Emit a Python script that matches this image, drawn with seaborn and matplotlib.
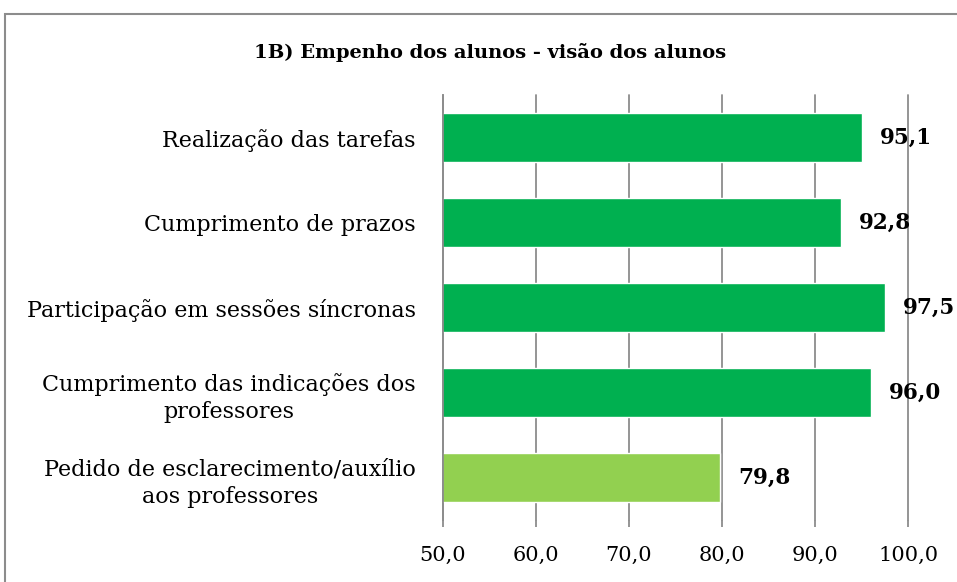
import matplotlib
matplotlib.use("Agg")
import matplotlib.pyplot as plt
import seaborn as sns
import pandas as pd
from matplotlib.patches import Rectangle

# dados do gráfico
categorias = [
    "Realização das tarefas",
    "Cumprimento de prazos",
    "Participação em sessões síncronas",
    "Cumprimento das indicações dos\nprofessores",
    "Pedido de esclarecimento/auxílio\naos professores",
]
valores = [95.1, 92.8, 97.5, 96.0, 79.8]
cores = ["#00B050", "#00B050", "#00B050", "#00B050", "#92D050"]
ticks_x = [50, 60, 70, 80, 90, 100]
titulo = "1B) Empenho dos alunos - visão dos alunos"

df = pd.DataFrame({"categoria": categorias, "valor": valores})

sns.set_style("white")
plt.rcParams["font.family"] = ["DejaVu Serif"]
plt.rcParams["text.color"] = "black"
plt.rcParams["xtick.color"] = "black"
plt.rcParams["ytick.color"] = "black"

fig = plt.figure(figsize=(9.57, 5.82), dpi=100)
ax = fig.add_axes([0.4629, 0.1065, 0.4859, 0.7302])

sns.barplot(data=df, x="valor", y="categoria", hue="categoria", palette=cores,
            orient="h", width=0.58, legend=False, ax=ax, saturation=1)

ax.set_xlim(50, 100)
ax.set_xticks(ticks_x)
ax.set_xticklabels([f"{t:.1f}".replace(".", ",") for t in ticks_x], fontsize=15)
ax.grid(axis="x", color="#8c8c8c", linewidth=1.3)
for g in ax.get_xgridlines():
    g.set_clip_on(False)
ax.set_axisbelow(True)
ax.set_xlabel("")
ax.set_ylabel("")

for s in ["top", "right", "bottom"]:
    ax.spines[s].set_visible(False)
ax.spines["left"].set_color("#8c8c8c")
ax.spines["left"].set_linewidth(1.3)

ax.tick_params(axis="x", bottom=True, length=5, width=1.3, color="#8c8c8c",
               labelcolor="black", pad=14)
ax.tick_params(axis="y", left=False, pad=16, labelcolor="black")
for lbl in ax.get_yticklabels():
    lbl.set_fontsize(16)
    lbl.set_multialignment("center")
    lbl.set_linespacing(1.35)

# rótulos dos valores
for i, v in enumerate(valores):
    ax.text(v + 1.9, i, f"{v:.1f}".replace(".", ","), va="center", ha="left",
            fontsize=15.5, fontweight="bold", color="black", clip_on=False)

fig.text(0.512, 0.91, titulo, ha="center", va="center", fontsize=14,
         fontweight="bold", color="black")

# moldura do gráfico
fig.patches.append(Rectangle((5 / 957, -0.1), 1.2, 1 - 14 / 582 + 0.1,
                             transform=fig.transFigure, fill=False,
                             edgecolor="#8c8c8c", linewidth=1.5))

fig.savefig("out.png", dpi=100)
